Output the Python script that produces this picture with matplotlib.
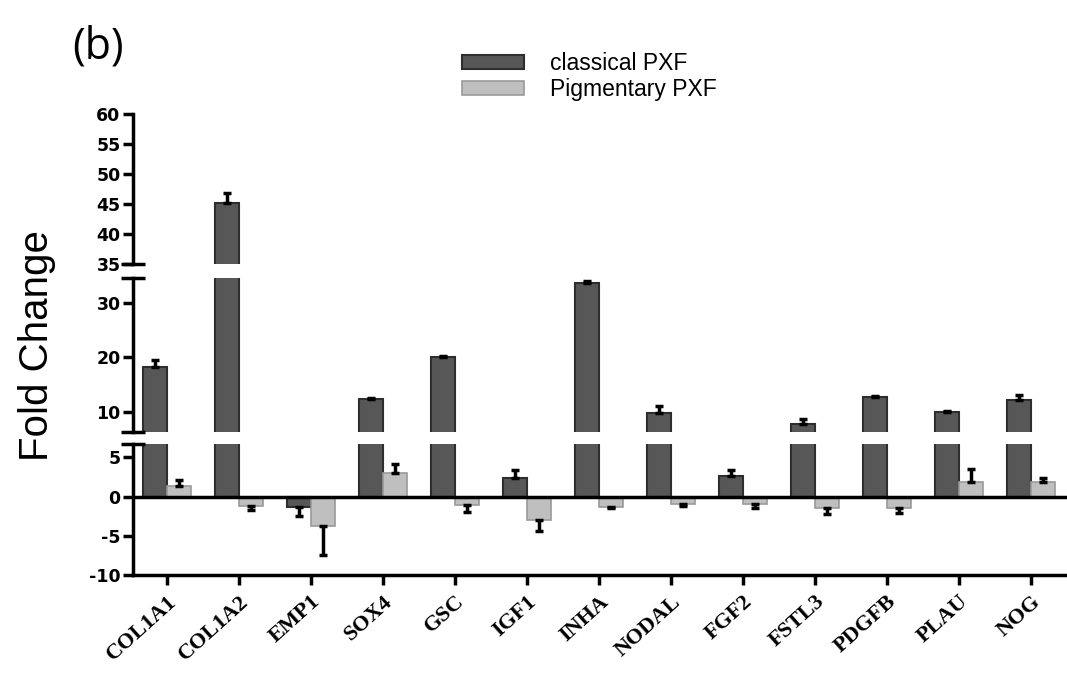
import numpy as np
import matplotlib.pyplot as plt

genes = ["COL1A1", "COL1A2", "EMP1", "SOX4", "GSC", "IGF1", "INHA",
         "NODAL", "FGF2", "FSTL3", "PDGFB", "PLAU", "NOG"]
classical = [18.2, 45.2, -1.3, 12.4, 20.0, 2.4, 33.6, 9.8, 2.6, 7.8, 12.7, 10.0, 12.2]
classical_err = [1.3, 1.7, 1.2, 0.2, 0.2, 1.0, 0.4, 1.2, 0.8, 0.8, 0.2, 0.2, 0.9]
pigmentary = [1.3, -1.2, -3.8, 3.0, -1.1, -3.0, -1.3, -0.9, -0.9, -1.4, -1.5, 1.9, 1.9]
pigmentary_err = [0.8, 0.5, 3.7, 1.2, 0.9, 1.4, 0.1, 0.3, 0.5, 0.8, 0.6, 1.6, 0.5]

x = np.arange(len(genes))
w = 0.33
c_dark = "#575757"
c_light = "#bfbfbf"

fig = plt.figure(figsize=(10.67, 6.78), dpi=100)
L = 133 / 1067
W = 1 - L
ax_top = fig.add_axes([L, 1 - 264 / 678, W, 150 / 678])
ax_mid = fig.add_axes([L, 1 - 432 / 678, W, 154 / 678])
ax_bot = fig.add_axes([L, 1 - 575 / 678, W, 131 / 678])

limits = [(35, 60), (6.3, 34.6), (-10, 6.7)]
ticks = [[35, 40, 45, 50, 55, 60], [10, 20, 30], [-10, -5, 0, 5]]


def one_sided(vals, errs):
    vals = np.array(vals)
    errs = np.array(errs)
    lower = np.where(vals < 0, errs, 0)
    upper = np.where(vals >= 0, errs, 0)
    return [lower, upper]


for ax, lim, tk in zip([ax_top, ax_mid, ax_bot], limits, ticks):
    b1 = ax.bar(x - w / 2, classical, w, color=c_dark, edgecolor="#2e2e2e",
                linewidth=1.5, label="classical PXF", zorder=2)
    b2 = ax.bar(x + w / 2, pigmentary, w, color=c_light, edgecolor="#9a9a9a",
                linewidth=1.2, label="Pigmentary PXF", zorder=2)
    ax.errorbar(x - w / 2, classical, yerr=one_sided(classical, classical_err),
                fmt="none", ecolor="black", elinewidth=2.5, capsize=3, capthick=2.5, zorder=3)
    ax.errorbar(x + w / 2, pigmentary, yerr=one_sided(pigmentary, pigmentary_err),
                fmt="none", ecolor="black", elinewidth=2.5, capsize=3, capthick=2.5, zorder=3)
    ax.set_ylim(*lim)
    ax.set_xlim(-0.47, 12.5)
    ax.set_yticks(tk)
    ax.set_yticklabels([str(t) for t in tk], fontweight="bold", fontsize=12.5,
                       family="DejaVu Sans")
    ax.tick_params(axis="y", length=7, width=2.5, pad=2)
    for s in ["top", "right"]:
        ax.spines[s].set_visible(False)
    ax.spines["left"].set_linewidth(2.5)
    ax.patch.set_alpha(0)
    # break marks at the segment ends
    d = 12 / (W * 1067)
    if ax is not ax_top:
        ax.plot([-d, d], [1, 1], transform=ax.transAxes, color="black",
                lw=2.5, clip_on=False, solid_capstyle="butt")
    if ax is not ax_bot:
        ax.plot([-d, d], [0, 0], transform=ax.transAxes, color="black",
                lw=2.5, clip_on=False, solid_capstyle="butt")

for ax in [ax_top, ax_mid]:
    ax.spines["bottom"].set_visible(False)
    ax.set_xticks([])

ax_bot.spines["bottom"].set_linewidth(2.5)
ax_bot.axhline(0, color="black", lw=2.5, zorder=4)
ax_bot.set_xticks(x)
ax_bot.set_xticklabels(genes, rotation=42, ha="right", rotation_mode="anchor",
                       fontsize=16, fontweight="bold", family="Liberation Serif")
ax_bot.tick_params(axis="x", length=7, width=2.5, pad=5)

fig.text(37 / 1067, 1 - 346 / 678, "Fold Change", rotation=90, ha="center",
         va="center", fontsize=29, family="Liberation Sans")
fig.text(98 / 1067, 1 - 47 / 678, "(b)", ha="center", va="center",
         fontsize=31, family="Open Sans")

fig.legend(handles=[b1, b2], loc="upper left", bbox_to_anchor=(462 / 1067, 1 - 52 / 678),
           frameon=False, handlelength=2.7, handleheight=0.55,
           handletextpad=1.15, labelspacing=0.12, borderpad=0, borderaxespad=0,
           prop={"family": "Liberation Sans", "size": 16.5})

fig.savefig("out.png", dpi=100)
